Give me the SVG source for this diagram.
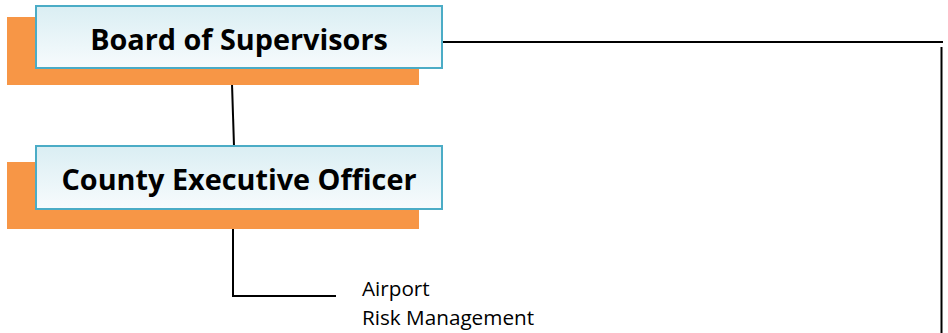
<svg xmlns="http://www.w3.org/2000/svg" width="948" height="333" viewBox="0 0 948 333">
<defs>
<linearGradient id="g" x1="0" y1="0" x2="0" y2="1">
<stop offset="0" stop-color="#DAEEF3"/>
<stop offset="1" stop-color="#F7FBFD"/>
</linearGradient>
<style>
.sh{fill:#F79646}
.bx{fill:url(#g);stroke:#4BACC6;stroke-width:2}
.t{font-family:"Open Sans","Liberation Sans",sans-serif;font-weight:bold;font-size:28.8px;fill:#000;text-anchor:middle}
.l{font-family:"Open Sans","Liberation Sans",sans-serif;font-size:20.7px;fill:#000}
.c{fill:none;stroke:#000;stroke-width:2}
</style>
</defs>
<rect width="948" height="333" fill="#fff"/>
<g id="connectors">
<path class="c" d="M442 42 H943"/>
<path class="c" d="M941.5 47 V333"/>
<path class="c" d="M232 84 L234 146"/>
<path class="c" d="M233 229 V296 H336"/>
</g>
<g id="board">
<rect class="sh" x="7" y="17" width="412" height="68"/>
<rect class="bx" x="36" y="6" width="406" height="62"/>
<text class="t" x="239" y="50">Board of Supervisors</text>
</g>
<g id="ceo">
<rect class="sh" x="7" y="162" width="412" height="67"/>
<rect class="bx" x="36" y="146" width="406" height="63"/>
<text class="t" x="239" y="190">County Executive Officer</text>
</g>
<g id="units">
<text class="l" x="362" y="295.5">Airport</text>
<text class="l" x="362" y="325">Risk Management</text>
</g>
</svg>
